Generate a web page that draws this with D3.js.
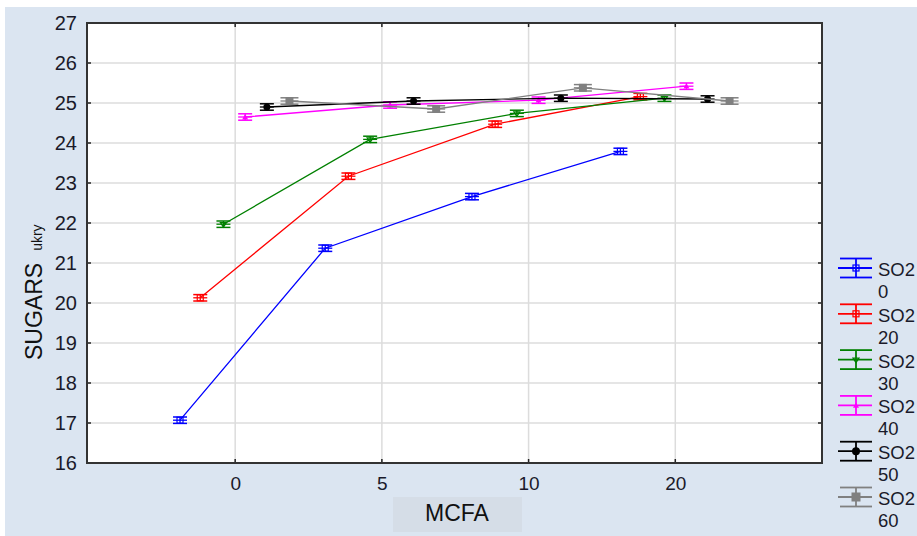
<!DOCTYPE html>
<html><head><meta charset="utf-8">
<script src="https://cdn.jsdelivr.net/npm/d3@7"></script>
<style>body{margin:0;background:#fff;} svg{display:block;}</style>
</head><body>
<svg id="c" width="917" height="536"></svg>
<script>
const seriesNames = ["SO2 0","SO2 20","SO2 30","SO2 40","SO2 50","SO2 60"];
const seriesColors = ["#0000ff","#ff0000","#008000","#ff00ff","#000000","#808080"];
const seriesMarkers = ["squareOpen","squareOpen","diamondOpen","triangle","circle","square"];
const xBlue = [-1.88, 3.07, 8.07, 13.13];
const yBlue = [17.07, 21.37, 22.66, 23.79];
const xRed = [-1.19, 3.86, 8.86, 13.81];
const yRed = [20.13, 23.17, 24.47, 25.16];
const xGreen = [-0.4, 4.6, 9.6, 14.63];
const yGreen = [21.97, 24.09, 24.74, 25.12];
const xMagenta = [0.34, 5.28, 10.34, 15.38];
const yMagenta = [24.65, 24.95, 25.07, 25.42];
const xBlack = [1.08, 6.08, 11.1, 16.1];
const yBlack = [24.9, 25.05, 25.12, 25.1];
const xGray = [1.85, 6.85, 11.85, 16.85];
const yGray = [25.05, 24.85, 25.38, 25.05];
const errHalf = [0.08, 0.08, 0.08, 0.08, 0.08, 0.08];
const xTickValues = [0, 5, 10, 15];
const xTickLabels = ["0", "5", "10", "20"];
const yTickValues = [16,17,18,19,20,21,22,23,24,25,26,27];
const xsAll = [xBlue, xRed, xGreen, xMagenta, xBlack, xGray];
const ysAll = [yBlue, yRed, yGreen, yMagenta, yBlack, yGray];

const svg = d3.select("#c");
const W = 917, H = 536;
const L = 87, R = 822, T = 23, B = 463;
const font = "'Liberation Sans', Arial, sans-serif";

svg.append("rect").attr("x",5).attr("y",7).attr("width",W-5).attr("height",H-7).attr("fill","#dbe5f1");
svg.append("rect").attr("x",L).attr("y",T).attr("width",R-L).attr("height",B-T).attr("fill","#fff");

const x = d3.scaleLinear().domain([-5.05, 20]).range([L, R]);
const y = d3.scaleLinear().domain([16, 27]).range([B, T]);

// grid
const grid = svg.append("g");
grid.selectAll("line.h").data(yTickValues.slice(1,-1)).enter().append("line")
  .attr("x1",L).attr("x2",R).attr("y1",d=>y(d)).attr("y2",d=>y(d))
  .attr("stroke","#dcdcdc").attr("stroke-width",1.5);
grid.selectAll("line.v").data(xTickValues).enter().append("line")
  .attr("y1",T).attr("y2",B).attr("x1",d=>x(d)).attr("x2",d=>x(d))
  .attr("stroke","#dcdcdc").attr("stroke-width",1.5);

// axes
const ax = svg.append("g");
const yAxis = d3.axisLeft(y).tickValues(yTickValues).tickSize(0).tickPadding(10).tickFormat(d3.format("d"));
const gy = ax.append("g").attr("transform",`translate(${L},0)`).call(yAxis);
gy.select(".domain").remove();
gy.selectAll("text").attr("font-family",font).attr("font-size",20).attr("fill","#1a1a2a");
const xAxis = d3.axisBottom(x).tickValues(xTickValues).tickSize(0).tickPadding(14).tickFormat((d,i)=>xTickLabels[i]);
const gx = ax.append("g").attr("transform",`translate(0,${B})`).call(xAxis);
gx.select(".domain").remove();
gx.selectAll("text").attr("font-family",font).attr("font-size",19).attr("fill","#1a1a2a");

// inward tick marks
const tk = svg.append("g").attr("stroke","#222").attr("stroke-width",1.5);
yTickValues.slice(1,-1).forEach(v=>{
  tk.append("line").attr("x1",L).attr("x2",L+4).attr("y1",y(v)).attr("y2",y(v));
  tk.append("line").attr("x1",R-4).attr("x2",R).attr("y1",y(v)).attr("y2",y(v));
});
xTickValues.forEach(v=>{
  tk.append("line").attr("y1",B).attr("y2",B-4).attr("x1",x(v)).attr("x2",x(v));
  tk.append("line").attr("y1",T).attr("y2",T+4).attr("x1",x(v)).attr("x2",x(v));
});
svg.append("rect").attr("x",L).attr("y",T).attr("width",R-L).attr("height",B-T)
  .attr("fill","none").attr("stroke","#333").attr("stroke-width",2);

function marker(g, type, cx, cy, color, s){
  if(type==="squareOpen"){
    g.append("rect").attr("x",cx-s/2).attr("y",cy-s/2).attr("width",s).attr("height",s)
     .attr("fill","none").attr("stroke",color).attr("stroke-width",1.2);
  } else if(type==="diamondOpen"){
    g.append("path").attr("d",`M${cx-s/2},${cy-s/4}L${cx+s/2},${cy-s/4}L${cx},${cy+s/2}Z`)
     .attr("fill","none").attr("stroke",color).attr("stroke-width",1.2);
  } else if(type==="triangle"){
    g.append("path").attr("d",`M${cx},${cy-s/2}L${cx+s/2},${cy+s/2.5}L${cx-s/2},${cy+s/2.5}Z`)
     .attr("fill",color);
  } else if(type==="circle"){
    g.append("circle").attr("cx",cx).attr("cy",cy).attr("r",s/2).attr("fill",color);
  } else {
    g.append("rect").attr("x",cx-s/2).attr("y",cy-s/2).attr("width",s).attr("height",s).attr("fill",color);
  }
}

const line = d3.line().x(d=>x(d[0])).y(d=>y(d[1]));
seriesNames.forEach((name,i)=>{
  const pts = xsAll[i].map((xv,j)=>[xv, ysAll[i][j]]);
  const g = svg.append("g");
  const c = seriesColors[i];
  g.append("path").attr("d",line(pts)).attr("fill","none").attr("stroke",c).attr("stroke-width",1.3);
  pts.forEach(p=>{
    const cx = x(p[0]), cy = y(p[1]);
    const y1 = y(p[1]+errHalf[i]), y2 = y(p[1]-errHalf[i]);
    const cw = i===5 ? 9 : 7;
    g.append("line").attr("x1",cx).attr("x2",cx).attr("y1",y1).attr("y2",y2).attr("stroke",c).attr("stroke-width",1.3);
    g.append("line").attr("x1",cx-cw).attr("x2",cx+cw).attr("y1",y1).attr("y2",y1).attr("stroke",c).attr("stroke-width",1.5);
    g.append("line").attr("x1",cx-cw).attr("x2",cx+cw).attr("y1",y2).attr("y2",y2).attr("stroke",c).attr("stroke-width",1.5);
    g.append("line").attr("x1",cx-cw).attr("x2",cx+cw).attr("y1",cy).attr("y2",cy).attr("stroke",c).attr("stroke-width",1.3);
    marker(g, seriesMarkers[i], cx, cy, c, i===5?8:(i===4?7:6));
  });
});

// legend
const lg = svg.append("g");
seriesNames.forEach((name,i)=>{
  const cy = 268 + i*45.8;
  const c = seriesColors[i];
  const g = lg.append("g");
  g.append("line").attr("x1",840).attr("x2",872).attr("y1",cy-9.5).attr("y2",cy-9.5).attr("stroke",c).attr("stroke-width",1.8);
  g.append("line").attr("x1",840).attr("x2",872).attr("y1",cy+9.5).attr("y2",cy+9.5).attr("stroke",c).attr("stroke-width",1.8);
  g.append("line").attr("x1",838).attr("x2",872).attr("y1",cy).attr("y2",cy).attr("stroke",c).attr("stroke-width",1.8);
  g.append("line").attr("x1",856).attr("x2",856).attr("y1",cy-9.5).attr("y2",cy+9.5).attr("stroke",c).attr("stroke-width",1.8);
  marker(g, seriesMarkers[i], 856, cy, c, i===5?9:(i===4?8:6));
  const parts = name.split(" ");
  const t = g.append("text").attr("font-family",font).attr("font-size",18.5).attr("fill","#1a1a2a");
  t.append("tspan").attr("x",878).attr("y",cy+8).text(parts[0]);
  t.append("tspan").attr("x",878).attr("y",cy+30).text(parts[1]);
});

// axis titles
svg.append("rect").attr("x",393).attr("y",497).attr("width",129).attr("height",35).attr("fill","#d5dde7");
svg.append("text").attr("x",457).attr("y",521).attr("text-anchor","middle")
  .attr("font-family",font).attr("font-size",23).attr("fill","#111").text("MCFA");
const yt = svg.append("text").attr("transform","translate(42,360) rotate(-90)")
  .attr("font-family",font).attr("fill","#111");
yt.append("tspan").attr("font-size",23).text("SUGARS");
yt.append("tspan").attr("font-size",14).attr("dx",12).text("ukry");
</script>
</body></html>
